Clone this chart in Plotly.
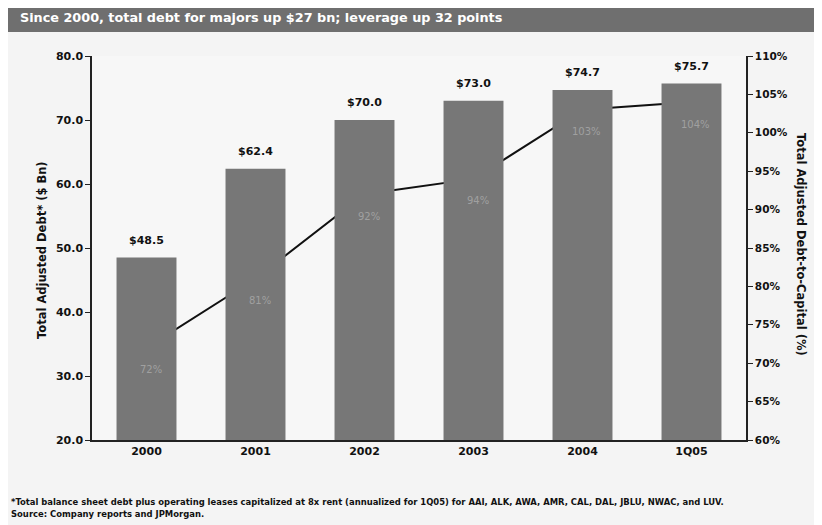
import plotly.graph_objects as go

categories = ["2000", "2001", "2002", "2003", "2004", "1Q05"]
debt_bn = [48.5, 62.4, 70.0, 73.0, 74.7, 75.7]
debt_to_capital = [72, 81, 92, 94, 103, 104]
left_ticks = [20, 30, 40, 50, 60, 70, 80]
right_ticks = [60, 65, 70, 75, 80, 85, 90, 95, 100, 105, 110]

title_text = "Since 2000, total debt for majors up $27 bn; leverage up 32 points"
left_title = "Total Adjusted Debt* ($ Bn)"
right_title = "Total Adjusted Debt-to-Capital (%)"
footnote_1 = ("*Total balance sheet debt plus operating leases capitalized at 8x rent "
              "(annualized for 1Q05) for AAI, ALK, AWA, AMR, CAL, DAL, JBLU, NWAC, and LUV.")
footnote_2 = "Source: Company reports and JPMorgan."

FONT = "DejaVu Sans"
BAR_COLOR = "#777777"

# page has an 8px body margin: figure is drawn at screen offset (8, 8)
OFF = 8
W, H = 814, 517
ML, MR, MT, MB = 92 - OFF, W - (746 - OFF), 56 - OFF, H - (440 - OFF)
PW, PH = W - ML - MR, H - MT - MB


def px_x(xs):
    return (xs - OFF - ML) / PW


def px_y(ys):
    return (H - MB - (ys - OFF)) / PH


fig = go.Figure()

# Line (lower layer, behind bars)
fig.add_trace(go.Scatter(
    x=categories, y=debt_to_capital, mode="lines",
    line=dict(color="#111111", width=2),
    yaxis="y", showlegend=False, hoverinfo="skip",
))

# Bars (upper layer)
fig.add_trace(go.Bar(
    x=categories, y=debt_bn, yaxis="y2",
    marker=dict(color=BAR_COLOR, line=dict(width=0)),
    showlegend=False, hoverinfo="skip",
))

annotations = []
for i, v in enumerate(debt_bn):
    annotations.append(dict(
        x=i, y=v, xref="x", yref="y2", text=f"${v:.1f}", showarrow=False,
        yanchor="bottom", yshift=9,
        font=dict(family=FONT, size=11, color="#111111", weight="bold"),
    ))
for i, v in enumerate(debt_to_capital):
    annotations.append(dict(
        x=i, y=v, xref="x", yref="y", text=f"{v}%", showarrow=False,
        yshift=-22, xshift=4, font=dict(family=FONT, size=10, color="#a0a0a0"),
    ))

annotations += [
    dict(x=px_x(18), y=px_y(17), xref="paper", yref="paper", xanchor="left", yanchor="middle",
         text=title_text, showarrow=False,
         font=dict(family=FONT, size=12.8, color="#ffffff", weight="bold")),
    dict(x=px_x(42), y=px_y(250), xref="paper", yref="paper", xanchor="center", yanchor="middle",
         text=left_title, showarrow=False, textangle=-90,
         font=dict(family=FONT, size=11.5, color="#111111", weight="bold")),
    dict(x=px_x(801), y=px_y(245), xref="paper", yref="paper", xanchor="center", yanchor="middle",
         text=right_title, showarrow=False, textangle=90,
         font=dict(family=FONT, size=11.5, color="#111111", weight="bold")),
    dict(x=px_x(9), y=px_y(494), xref="paper", yref="paper", xanchor="left", yanchor="top",
         text=footnote_1 + "<br>" + footnote_2, showarrow=False, align="left",
         font=dict(family="DejaVu Sans Condensed, DejaVu Sans", size=9.4, color="#111111", weight="bold")),
]

fig.update_layout(
    width=W, height=H,
    margin=dict(l=ML, r=MR, t=MT, b=MB),
    paper_bgcolor="#f4f4f4", plot_bgcolor="#f7f7f7",
    bargap=0.45,
    font=dict(family=FONT, color="#111111"),
    xaxis=dict(
        type="category", range=[-0.5, 5.5], showline=True, linecolor="#222222", linewidth=1.5,
        ticks="", showgrid=False,
        tickfont=dict(family=FONT, size=11, color="#111111", weight="bold"),
    ),
    yaxis=dict(
        side="right", range=[60, 110], tickvals=right_ticks,
        ticktext=[f"{t}%" for t in right_ticks],
        showline=True, linecolor="#222222", linewidth=1.5,
        ticks="outside", ticklen=5, tickcolor="#222222",
        showgrid=False, zeroline=False,
        tickfont=dict(family=FONT, size=10.5, color="#111111", weight="bold"),
    ),
    yaxis2=dict(
        side="left", overlaying="y", range=[20, 80], tickvals=left_ticks,
        ticktext=[f"{t:.1f}" for t in left_ticks],
        showline=True, linecolor="#222222", linewidth=1.5,
        ticks="outside", ticklen=5, tickcolor="#222222",
        showgrid=False, zeroline=False,
        tickfont=dict(family=FONT, size=11, color="#111111", weight="bold"),
    ),
    shapes=[dict(type="rect", xref="paper", yref="paper",
                 x0=px_x(8), x1=px_x(815), y0=px_y(32), y1=px_y(4),
                 fillcolor="#6f6f6f", line=dict(width=0), layer="below")],
    annotations=annotations,
)

fig.write_html("out.html")
